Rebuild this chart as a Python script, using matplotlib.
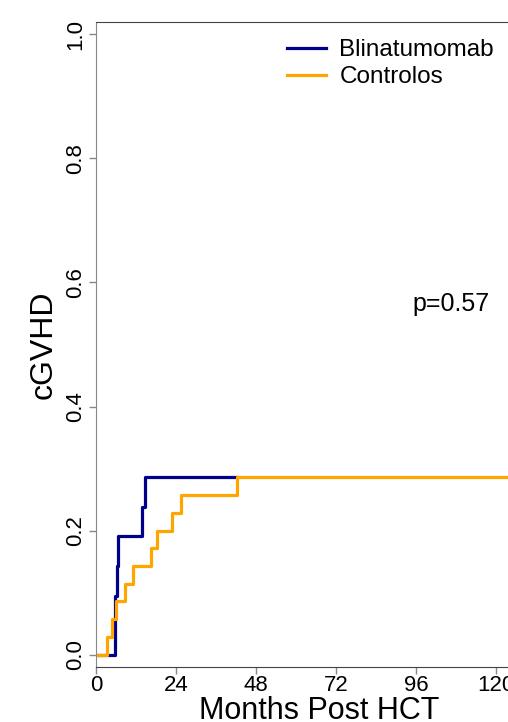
import numpy as np
import matplotlib
matplotlib.use('Agg')
import matplotlib.pyplot as plt

plt.rcParams['font.family'] = ['Liberation Sans', 'DejaVu Sans']

# cumulative incidence steps (months, cumulative fraction)
blina_t = [0, 5.7, 6.2, 6.7, 13.9, 14.7, 42.2]
blina_y = [0, 2/21, 3/21, 4/21, 5/21, 6/21, 6/21]

ctrl_t = [0, 3.4, 4.7, 6.0, 8.7, 11.0, 16.5, 18.2, 22.7, 25.4, 42.2, 134]
ctrl_y = [0, 1/35, 2/35, 3/35, 4/35, 5/35, 6/35, 7/35, 8/35, 9/35, 10/35, 10/35]

xticks = [0, 24, 48, 72, 96, 120]
yticks = [0.0, 0.2, 0.4, 0.6, 0.8, 1.0]
p_text = 'p=0.57'

fig = plt.figure(figsize=(5.08, 7.22), dpi=100)
ax = fig.add_axes([96/508, 55/722, 447/508, 645/722])

ax.step(blina_t, blina_y, where='post', color='#00008B', lw=2.3,
        label='Blinatumomab')
ax.step(ctrl_t, ctrl_y, where='post', color='#FFA500', lw=2.3,
        label='Controlos')

ax.set_xlim(0, 134)
ax.set_ylim(-0.02, 1.02)
ax.set_xticks(xticks)
ax.set_yticks(yticks)
ax.set_yticklabels(['%.1f' % v for v in yticks], rotation=90, va='center')
ax.tick_params(axis='both', labelsize=16, length=5, width=1, color='#888888')
ax.tick_params(axis='x', pad=0.5)
ax.tick_params(axis='y', pad=2)

for s in ['top', 'bottom', 'right']:
    ax.spines[s].set_color('#444444')
ax.spines['left'].set_color('#888888')

ax.set_xlabel('Months Post HCT', fontsize=22, labelpad=0)
ax.set_ylabel('cGVHD', fontsize=23, labelpad=5)

ax.text(106.5, 0.565, p_text, fontsize=18, ha='center', va='center')

ax.legend(loc='upper left', bbox_to_anchor=(287/508, 1 - 39/722),
          bbox_transform=fig.transFigure, frameon=False, fontsize=17.5,
          handlelength=1.6, handletextpad=0.55, labelspacing=0.22,
          borderpad=0, borderaxespad=0)

fig.savefig('out.png', dpi=100)
